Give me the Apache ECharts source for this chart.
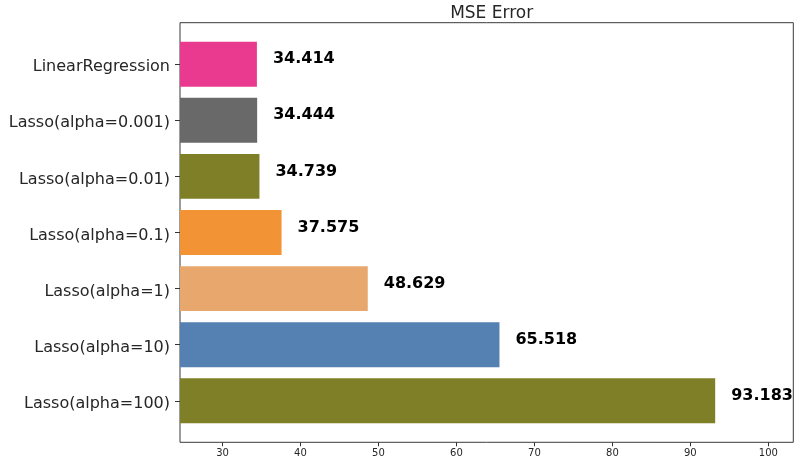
<!DOCTYPE html>
<html>
<head>
<meta charset="utf-8">
<script src="https://cdn.jsdelivr.net/npm/echarts@6/dist/echarts.min.js"></script>
<style>html,body{margin:0;padding:0;background:#fff}#c{width:800px;height:461px}</style>
</head>
<body>
<div id="c"></div>
<script>
var categories = ['LinearRegression','Lasso(alpha=0.001)','Lasso(alpha=0.01)','Lasso(alpha=0.1)','Lasso(alpha=1)','Lasso(alpha=10)','Lasso(alpha=100)'];
var mseValues = [34.414, 34.444, 34.739, 37.575, 48.629, 65.518, 93.183];
var barColors = ['#EA3A8F','#696969','#7F7F27','#F29336','#E8A76D','#5481B1','#7F7F27'];
var xTicks = [30, 40, 50, 60, 70, 80, 90, 100];
var xMin = 24.55, xMax = 103.2;

var chart = echarts.init(document.getElementById('c'));
var fontFam = 'DejaVu Sans';
var frameTop = 22.7, frameH = 419.6, left = 180, width = 613.3;
var band = frameH / (categories.length - 1 + 0.8 + 2 * 0.05 * (categories.length - 1 + 0.8));
var inset = (0.4 + 0.05 * (categories.length - 1 + 0.8) - 0.5) * band;

chart.setOption({
  animation: false,
  textStyle: {fontFamily: fontFam},
  title: {text: 'MSE Error', left: left + width / 2, top: 0, textAlign: 'center',
    textStyle: {fontFamily: fontFam, fontSize: 17, fontWeight: 'normal', color: '#262626'}},
  grid: [
    {left: left, top: frameTop, width: width, height: frameH, show: true, borderColor: '#3a3a3a', borderWidth: 1, backgroundColor: 'transparent'},
    {left: left, top: frameTop + inset, width: width, height: frameH - 2 * inset}
  ],
  xAxis: [
    {gridIndex: 0, type: 'value', min: xMin, max: xMax,
      axisLine: {show: false}, splitLine: {show: false},
      axisTick: {show: true, length: 4, lineStyle: {color: '#333'}, customValues: xTicks},
      axisLabel: {fontSize: 10, color: '#262626', margin: 6, customValues: xTicks, fontFamily: fontFam}},
    {gridIndex: 1, type: 'value', min: xMin, max: xMax, show: false}
  ],
  yAxis: [
    {gridIndex: 0, type: 'value', min: 0, max: 1, show: false},
    {gridIndex: 1, type: 'category', data: categories, inverse: true,
      axisLine: {show: false},
      axisTick: {show: true, alignWithLabel: true, length: 5, lineStyle: {color: '#333'}},
      axisLabel: {margin: 10, formatter: function (v) { return '{a|' + v + '}'; },
        rich: {a: {fontSize: 16, color: '#262626', fontFamily: fontFam, padding: [6, 0, 0, 0]}}}}
  ],
  series: [{
    type: 'bar', xAxisIndex: 1, yAxisIndex: 1, barCategoryGap: '20%',
    data: mseValues.map(function (v, i) { return {value: v, itemStyle: {color: barColors[i]}}; }),
    label: {show: true, position: 'right', distance: 16, offset: [0, -5],
      formatter: function (p) { return p.value.toFixed(3); },
      fontSize: 16, fontWeight: 'bold', color: '#000', fontFamily: fontFam}
  }]
});
</script>
</body>
</html>
